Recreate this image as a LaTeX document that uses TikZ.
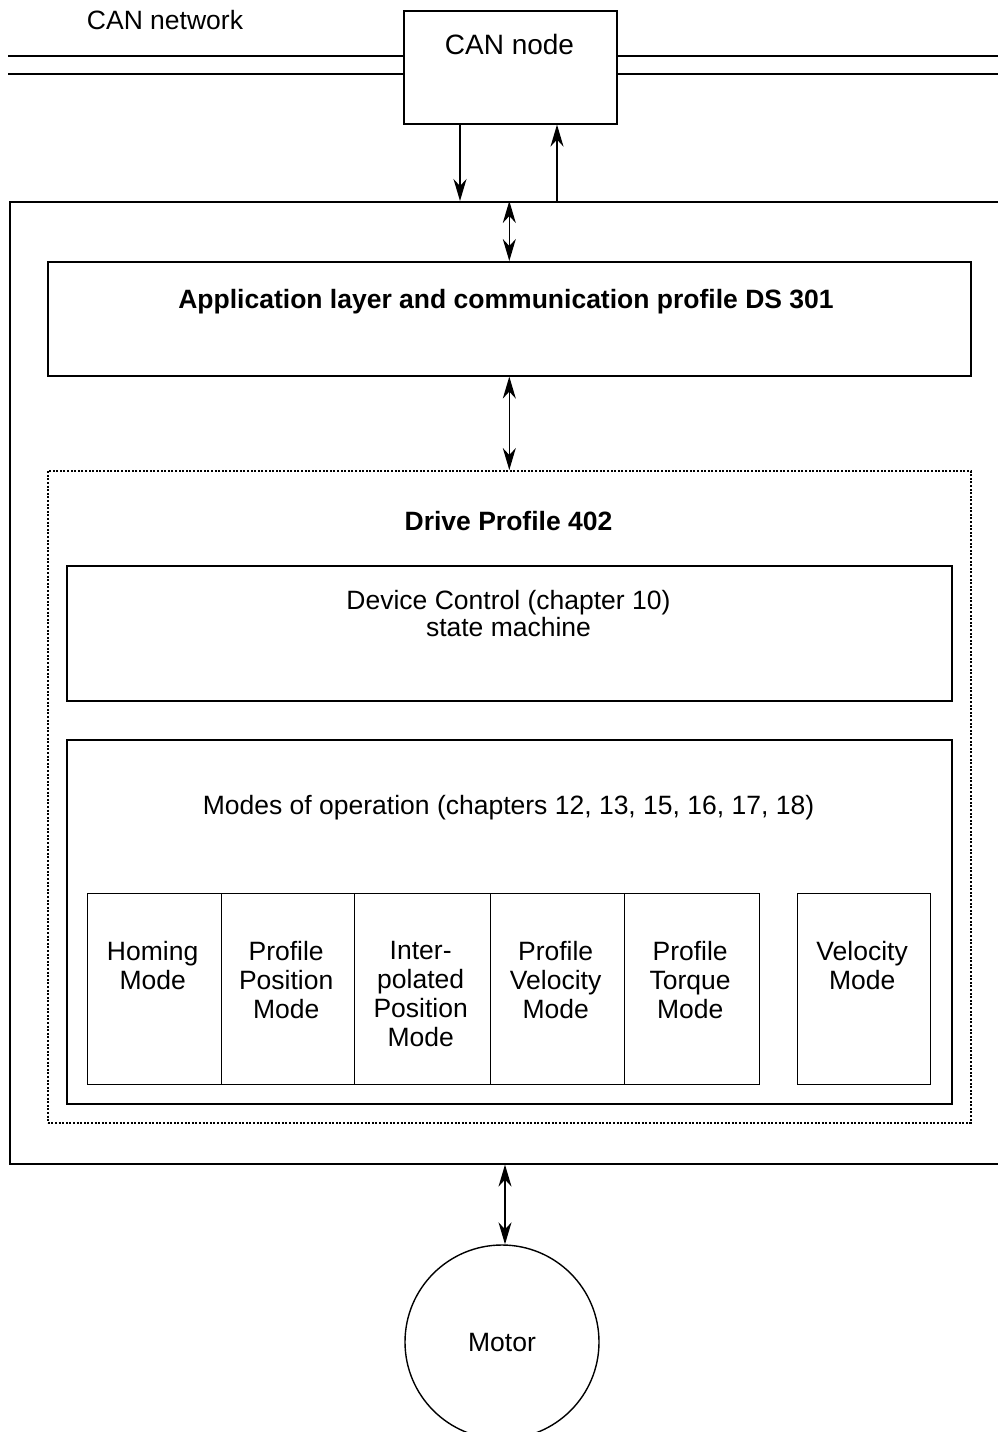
\documentclass[tikz,border=0pt]{standalone}
\usepackage{fontspec}
\setmainfont{Liberation Sans}
\usetikzlibrary{arrows.meta}
\begin{document}
\begin{tikzpicture}[x=1pt,y=-1pt,
  box/.style={draw, line width=1.6pt, inner sep=0pt, anchor=north west},
  modebox/.style={draw, line width=1.3pt, inner sep=0pt, anchor=north west, minimum height=191pt},
  lbl/.style={font=\fontsize{26.5}{29}\selectfont, align=center, inner sep=0pt},
  bus/.style={line width=1.6pt},
  arr/.style={line width=1.5pt, arrows={-Stealth[length=22pt,width=13pt,inset=7pt]}},
  darr/.style={line width=1.5pt, arrows={Stealth[length=22pt,width=13pt,inset=7pt]-Stealth[length=22pt,width=13pt,inset=7pt]}},
]
\useasboundingbox (0,0) rectangle (997,1432);

% CAN network
\node[lbl] (net) at (165,20) {CAN network};
\node[box, minimum width=213pt, minimum height=113pt] (can) at (403,10) {};
\node[lbl, font=\fontsize{28}{29}\selectfont] (cantxt) at (509.5,44) {CAN node};
\coordinate (busLa) at (8,56);
\coordinate (busLb) at (8,74);
\coordinate (busRa) at (1000,56);
\coordinate (busRb) at (1000,74);
\draw[bus] (busLa) -- (can.west |- busLa);
\draw[bus] (busLb) -- (can.west |- busLb);
\draw[bus] (can.east |- busRa) -- (busRa);
\draw[bus] (can.east |- busRb) -- (busRb);

% outer device box (right side open beyond page)
\node[box, minimum width=1020pt, minimum height=962pt] (outer) at (9,201) {};

\draw[arr] (can.south -| 460,0) -- (outer.north -| 460,0);
\draw[arr] (outer.north -| 557,0) -- (can.south -| 557,0);

% application layer
\node[box, minimum width=923pt, minimum height=114pt] (app) at (47,261) {};
\node[lbl, font=\fontsize{26.5}{29}\selectfont\bfseries] (apptxt) at (506,302) {Application layer and communication profile DS 301};
\draw[darr] (outer.north -| app.north) -- (app.north);

% drive profile
\node[box, dash pattern=on 2pt off 1.6pt, minimum width=923pt, minimum height=652pt] (drive) at (47,470) {};
\node[lbl, font=\fontsize{26.5}{29}\selectfont\bfseries] (drivetxt) at (508.5,521) {Drive Profile 402};
\draw[darr] (app.south) -- (drive.north);

% device control
\node[box, minimum width=885pt, minimum height=135pt] (dev) at (66,565) {};
\node[lbl, font=\fontsize{26.5}{27}\selectfont] (devtxt) at (508.5,614) {Device Control (chapter 10)\\state machine};

% modes
\node[box, minimum width=885pt, minimum height=364pt] (modes) at (66,739) {};
\node[lbl] (modestxt) at (508.5,808) {Modes of operation (chapters 12, 13, 15, 16, 17, 18)};

\node[modebox, minimum width=134pt] (m1) at (87,893) {};
\node[modebox, minimum width=133pt] (m2) at (221,893) {};
\node[modebox, minimum width=136pt] (m3) at (354,893) {};
\node[modebox, minimum width=134pt] (m4) at (490,893) {};
\node[modebox, minimum width=135pt] (m5) at (624,893) {};
\node[modebox, minimum width=133pt] (m6) at (797,893) {};

\node[lbl, anchor=north] (t1) at ([xshift=-2pt]m1.north |- 0,941) {Homing\\Mode};
\node[lbl, anchor=north] (t2) at ([xshift=-2pt]m2.north |- 0,941) {Profile\\Position\\Mode};
\node[lbl, anchor=north] (t3) at ([xshift=-2pt]m3.north |- 0,941) {Inter-\\polated\\Position\\Mode};
\node[lbl, anchor=north] (t4) at ([xshift=-2pt]m4.north |- 0,941) {Profile\\Velocity\\Mode};
\node[lbl, anchor=north] (t5) at ([xshift=-2pt]m5.north |- 0,941) {Profile\\Torque\\Mode};
\node[lbl, anchor=north] (t6) at ([xshift=-2pt]m6.north |- 0,941) {Velocity\\Mode};

% motor
\node[draw, circle, line width=1.4pt, minimum size=194pt, inner sep=0pt, font=\fontsize{26.5}{29}\selectfont] (motor) at (502,1342) {Motor};
\draw[darr] (outer.south -| 505,0) -- (motor.north -| 505,0);
\end{tikzpicture}
\end{document}
